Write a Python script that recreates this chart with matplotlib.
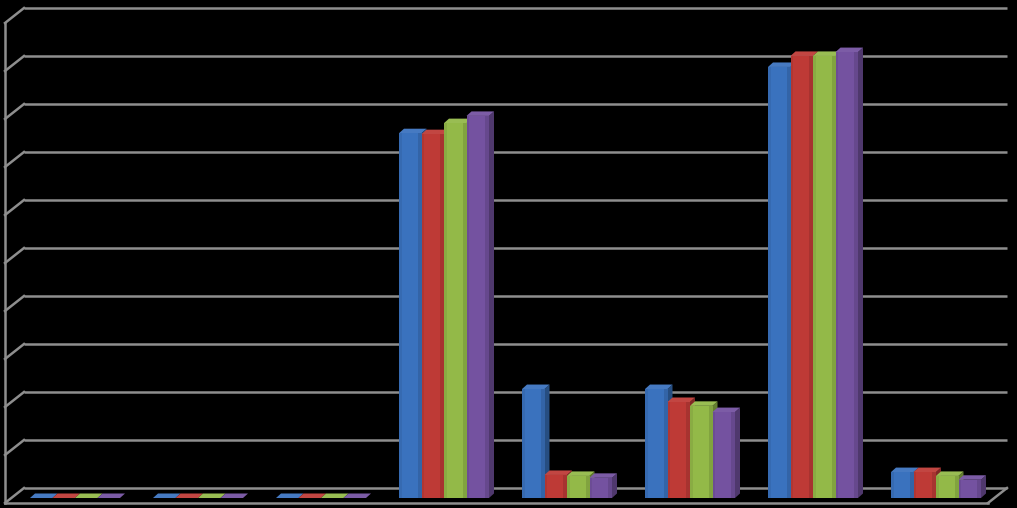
import matplotlib
matplotlib.use("Agg")
import matplotlib.pyplot as plt
from matplotlib.patches import Polygon
from matplotlib.colors import to_rgb
import numpy as np

# data (axis 0..100, gridline every 10)
categories = ["1", "2", "3", "4", "5", "6", "7", "8"]
series_1 = [0, 0, 0, 76.0, 22.7, 22.7, 89.8, 5.4]
series_2 = [0, 0, 0, 75.8, 4.8, 20.0, 92.1, 5.4]
series_3 = [0, 0, 0, 78.1, 4.6, 19.2, 92.1, 4.6]
series_4 = [0, 0, 0, 79.6, 4.2, 17.9, 92.9, 3.8]
series = [series_1, series_2, series_3, series_4]
colors = ["#3A72BE", "#BE3A36", "#93B948", "#7452A0"]
grid_values = np.arange(0, 101, 10)

W, H, DPI = 1017, 508, 100
fig = plt.figure(figsize=(W / DPI, H / DPI), dpi=DPI, facecolor="black")
ax = fig.add_axes([0, 0, 1, 1])
ax.set_facecolor("black")

# pixel scale of the bar plane
sx = 123.0   # px per category
sy = 4.8     # px per value unit
x0_px = 75.0  # pixel of first category
base_px = 10.0  # value 0 sits 10 px above the bottom
ax.set_xlim(-x0_px / sx, (W - x0_px) / sx)
ax.set_ylim(-base_px / sy, (H - base_px) / sy)
ax.axis("off")

def shade(c, f):
    r, g, b = to_rgb(c)
    if f >= 1:
        return (r + (1 - r) * (f - 1), g + (1 - g) * (f - 1), b + (1 - b) * (f - 1))
    return (r * f, g * f, b * f)

# walls / floor
front = (-6.3 / sx, -5 / sy)
back = (12.7 / sx, 10 / sy)
xl = (11.3 - x0_px) / sx
xr = (994.3 - x0_px) / sx
gc = "#8E8E8E"
lw = 1.8
for v in grid_values:
    ax.plot([xl + back[0], xr + back[0]], [v + back[1], v + back[1]], color=gc, lw=lw, zorder=1,
            solid_capstyle="butt")
    ax.plot([xl + front[0], xl + back[0]], [v + front[1], v + back[1]], color=gc, lw=lw, zorder=1)
ax.plot([xl + front[0], xl + front[0]], [front[1], grid_values[-1] + front[1]], color=gc, lw=lw, zorder=1)
ax.plot([xl + front[0], xr + front[0]], [front[1], front[1]], color=gc, lw=lw, zorder=1)
ax.plot([xr + front[0], xr + back[0]], [front[1], back[1]], color=gc, lw=lw, zorder=1)

# bars with a little depth
width = 22.5 / sx
ddx = 5 / sx
ddy = 4.5 / sy
x = np.arange(len(categories))
z = 3
for gi in range(len(categories)):
    for si, vals in enumerate(series):
        xc = x[gi] + (si - 1.5) * width
        h = vals[gi]
        c = colors[si]
        xa, xb = xc - width / 2, xc + width / 2
        side = Polygon([(xb, 0), (xb + ddx, ddy), (xb + ddx, h + ddy), (xb, h)],
                       closed=True, fc=shade(c, 0.68), ec="none", zorder=z)
        top = Polygon([(xa, h), (xa + ddx, h + ddy), (xb + ddx, h + ddy), (xb, h)],
                      closed=True, fc=shade(c, 1.06), ec="none", zorder=z)
        ax.add_patch(side)
        ax.add_patch(top)
        if h > 0:
            ax.bar(xc, h, width=width, color=c, zorder=z + 0.1)
            ax.bar(xb - width * 0.08, h, width=width * 0.16, color=shade(c, 0.88), zorder=z + 0.2)
            ax.bar(xa + width * 0.06, h, width=width * 0.12, color=shade(c, 0.93), zorder=z + 0.2)
        z += 1

fig.savefig("out.png", dpi=DPI, facecolor="black")
